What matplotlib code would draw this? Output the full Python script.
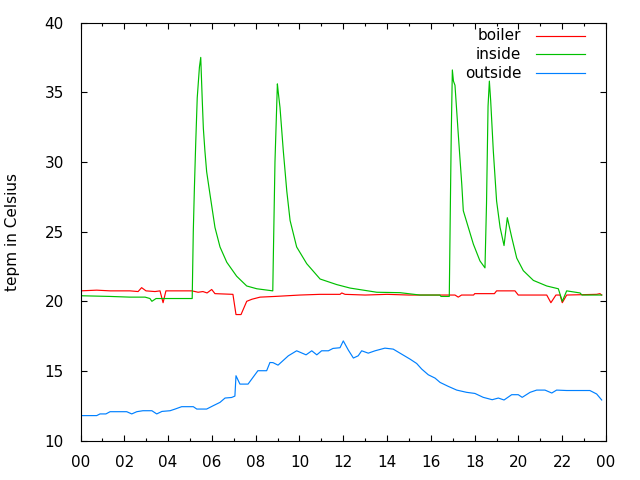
import matplotlib
matplotlib.use("Agg")
import matplotlib.pyplot as plt
from matplotlib.ticker import MultipleLocator, FuncFormatter
from matplotlib.lines import Line2D

# hours since midnight, temperature in Celsius
boiler_h = [0.0, 0.74, 1.35, 2.26, 2.63, 2.79, 2.99, 3.4, 3.63, 3.77, 3.9, 4.54,
            5.09, 5.37, 5.59, 5.78, 5.99, 6.14, 6.96, 7.1, 7.33, 7.59, 7.83, 8.2,
            8.88, 10.02, 10.93, 11.85, 11.93, 12.08, 13.0, 14.0, 15.0, 16.0, 17.1,
            17.25, 17.4, 17.95, 18.0, 18.9, 19.0, 19.46, 19.84, 19.99, 21.29, 21.48,
            21.71, 21.9, 22.0, 22.2, 23.57, 23.72, 23.8]
boiler_t = [20.75, 20.8, 20.75, 20.75, 20.7, 20.98, 20.75, 20.7, 20.75, 19.9, 20.75, 20.75,
            20.75, 20.65, 20.7, 20.6, 20.85, 20.55, 20.5, 19.05, 19.05, 20.0, 20.15, 20.3,
            20.35, 20.45, 20.5, 20.5, 20.6, 20.5, 20.45, 20.5, 20.45, 20.45, 20.45,
            20.3, 20.45, 20.45, 20.55, 20.55, 20.75, 20.75, 20.75, 20.45, 20.45, 19.9,
            20.45, 20.45, 19.9, 20.45, 20.5, 20.55, 20.45]

inside_h = [0.0, 1.35, 2.26, 2.95, 3.17, 3.26, 3.45, 4.09, 5.1, 5.15, 5.2, 5.26, 5.33,
            5.43, 5.49, 5.56, 5.61, 5.68, 5.76, 5.91, 6.14, 6.37, 6.68, 7.13, 7.59,
            8.05, 8.78, 8.8, 8.88, 8.99, 9.03, 9.11, 9.26, 9.42, 9.57, 9.87, 10.33,
            10.94, 11.7, 12.31, 13.53, 14.59, 15.5, 16.41, 16.46, 16.84, 16.89, 16.93,
            16.98, 17.03, 17.1, 17.25, 17.41, 17.48, 17.71, 17.94, 18.24, 18.47, 18.54,
            18.61, 18.67, 18.73, 18.85, 19.0, 19.16, 19.34, 19.49, 19.69, 19.92, 20.22,
            20.68, 21.29, 21.82, 22.0, 22.2, 22.81, 22.9, 23.8]
inside_t = [20.4, 20.35, 20.3, 20.3, 20.2, 20.0, 20.2, 20.2, 20.2, 25.0, 28.1, 31.3, 34.6,
            36.8, 37.5, 34.4, 32.4, 30.8, 29.3, 27.7, 25.3, 23.9, 22.8, 21.8, 21.1,
            20.9, 20.75, 22.7, 30.0, 35.6, 35.0, 33.9, 30.8, 27.9, 25.8, 23.9, 22.7,
            21.6, 21.2, 20.95, 20.65, 20.62, 20.45, 20.45, 20.35, 20.35, 27.0, 32.0,
            36.6, 35.8, 35.5, 32.0, 28.4, 26.5, 25.3, 24.1, 22.9, 22.4, 27.0,
            34.0, 35.8, 34.4, 30.8, 27.2, 25.3, 24.0, 26.0, 24.6, 23.1, 22.2,
            21.5, 21.1, 20.9, 20.0, 20.75, 20.6, 20.45, 20.45]

outside_h = [0.0, 0.74, 0.89, 1.16, 1.35, 2.11, 2.34, 2.57, 2.85, 3.26, 3.48, 3.72, 4.09,
             4.32, 4.62, 5.15, 5.31, 5.76, 6.06, 6.37, 6.6, 6.9, 7.05, 7.1, 7.28, 7.65,
             8.1, 8.5, 8.65, 8.79, 9.02, 9.49, 9.87, 10.3, 10.56, 10.79, 11.01, 11.32,
             11.53, 11.85, 12.0, 12.23, 12.46, 12.68, 12.84, 13.14, 13.45, 13.9, 14.28,
             14.59, 15.05, 15.35, 15.58, 15.88, 16.19, 16.42, 16.79, 17.18, 17.63, 18.01,
             18.39, 18.8, 19.08, 19.34, 19.69, 19.99, 20.17, 20.53, 20.83, 21.21, 21.52,
             21.74, 22.2, 23.26, 23.57, 23.8]
outside_t = [11.8, 11.8, 11.92, 11.92, 12.08, 12.08, 11.92, 12.08, 12.15, 12.15, 11.92, 12.1,
             12.15, 12.27, 12.44, 12.44, 12.27, 12.27, 12.51, 12.75, 13.06, 13.1, 13.2, 14.66,
             14.06, 14.06, 15.02, 15.02, 15.61, 15.6, 15.42, 16.09, 16.45, 16.16, 16.45,
             16.16, 16.45, 16.45, 16.62, 16.67, 17.16, 16.5, 15.93, 16.09, 16.45, 16.28,
             16.45, 16.64, 16.57, 16.28, 15.85, 15.54, 15.14, 14.73, 14.49, 14.18, 13.9,
             13.63, 13.47, 13.39, 13.11, 12.94, 13.06, 12.92, 13.3, 13.3, 13.11, 13.47,
             13.63, 13.63, 13.42, 13.63, 13.6, 13.6, 13.35, 12.92]

series = [("boiler", boiler_h, boiler_t, "#ff0000"),
          ("inside", inside_h, inside_t, "#00c000"),
          ("outside", outside_h, outside_t, "#0080ff")]

plt.rcParams["font.family"] = "DejaVu Sans"

fig, ax = plt.subplots(figsize=(6.4, 4.8), dpi=100)
plt.subplots_adjust(left=0.1258, right=0.947, top=0.953, bottom=0.0819)

for name, h, t, col in series:
    ax.plot(h, t, "-", color=col, lw=0.85)

ax.set_xlim(0, 24)
ax.set_ylim(10, 40)
ax.xaxis.set_major_locator(MultipleLocator(2))
ax.xaxis.set_minor_locator(MultipleLocator(1))
ax.yaxis.set_major_locator(MultipleLocator(5))
ax.xaxis.set_major_formatter(FuncFormatter(lambda v, _p: f"{int(round(v)) % 24:02d}"))

ax.tick_params(which="both", direction="in", top=True, right=True, colors="black",
               labelsize=11, width=0.8)
ax.tick_params(which="major", length=4.0)
ax.tick_params(which="minor", length=2.2)
ax.tick_params(axis="x", pad=10)
ax.tick_params(axis="y", pad=12)
for sp in ax.spines.values():
    sp.set_linewidth(0.8)

ax.set_ylabel("tepm in Celsius", fontsize=11)
ax.yaxis.set_label_coords(-0.115, 0.5)

# gnuplot-style key: right-aligned text, sample line after it
rows_y = [0.968, 0.924, 0.879]
for (name, h, t, col), yy in zip(series, rows_y):
    ax.text(0.839, yy, name, transform=ax.transAxes, ha="right", va="center", fontsize=11)
    ax.add_line(Line2D([0.867, 0.959], [yy, yy], transform=ax.transAxes, color=col, lw=0.85))

fig.savefig("out.png", dpi=100)
